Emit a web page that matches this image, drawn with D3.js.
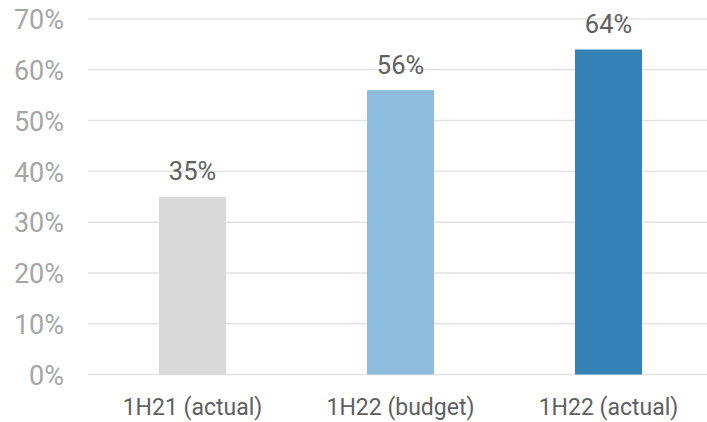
<!DOCTYPE html>
<html>
<head>
<meta charset="utf-8">
<script src="https://cdn.jsdelivr.net/npm/d3@7/dist/d3.min.js"></script>
<style>
  html, body { margin: 0; padding: 0; background: #fff; }
  svg { display: block; font-family: Roboto, "Noto Sans", sans-serif; }
</style>
</head>
<body>
<svg id="chart" width="707" height="422"></svg>
<script>
// Share of the period, by half-year
const categories = ["1H21 (actual)", "1H22 (budget)", "1H22 (actual)"];
const values = [35, 56, 64];
const colors = ["#d9d9d9", "#8ebcde", "#3481b7"];
const yTicks = [0, 10, 20, 30, 40, 50, 60, 70];

const svg = d3.select("#chart");
const W = 707;

const x = d3.scaleBand()
  .domain(categories)
  .range([88.5, 712.5])
  .paddingInner(0.678)
  .paddingOuter(0.339);

const y = d3.scaleLinear()
  .domain([0, 70])
  .range([374.5, 19]);

// Horizontal gridlines
svg.append("g")
  .selectAll("line")
  .data(yTicks)
  .join("line")
  .attr("x1", 88)
  .attr("x2", W)
  .attr("y1", d => y(d))
  .attr("y2", d => y(d))
  .attr("stroke", "#e3e3e3")
  .attr("stroke-width", 1.5);

// Y axis labels
const yAxis = d3.axisLeft(y)
  .tickValues(yTicks)
  .tickFormat(d => d + "%")
  .tickSize(0)
  .tickPadding(0);

svg.append("g")
  .attr("transform", "translate(64,0)")
  .call(yAxis)
  .call(g => g.select(".domain").remove())
  .call(g => g.selectAll("text")
    .attr("fill", "#a6a6a6")
    .style("font-size", "27px")
    .style("font-family", "Roboto, sans-serif")
    .attr("dy", "0.36em"));

// Bars
svg.append("g")
  .selectAll("rect")
  .data(values)
  .join("rect")
  .attr("x", (d, i) => x(categories[i]))
  .attr("width", x.bandwidth())
  .attr("y", d => y(d))
  .attr("height", d => y(0) - y(d))
  .attr("fill", (d, i) => colors[i]);

// Value labels above bars
svg.append("g")
  .selectAll("text")
  .data(values)
  .join("text")
  .attr("x", (d, i) => x(categories[i]) + x.bandwidth() / 2)
  .attr("y", d => y(d) - 16.5)
  .attr("text-anchor", "middle")
  .attr("fill", "#606060")
  .style("font-size", "25.5px")
  .text(d => d + "%");

// Category labels
const xAxis = d3.axisBottom(x).tickSize(0).tickPadding(0);
svg.append("g")
  .attr("transform", "translate(0,415)")
  .call(xAxis)
  .call(g => g.select(".domain").remove())
  .call(g => g.selectAll("text")
    .attr("dy", 0)
    .attr("y", 0)
    .attr("fill", "#606060")
    .style("font-size", "23px")
    .style("font-family", "Roboto, sans-serif"));
</script>
</body>
</html>
